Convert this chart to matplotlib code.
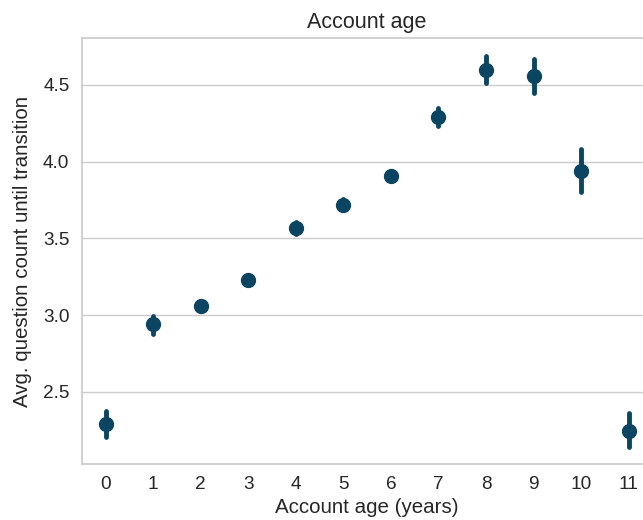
import matplotlib
matplotlib.use("Agg")
import matplotlib.pyplot as plt
import numpy as np

# Account age (years) vs avg. question count until transition
ages = ["0", "1", "2", "3", "4", "5", "6", "7", "8", "9", "10", "11"]
means = [2.29, 2.94, 3.06, 3.23, 3.565, 3.72, 3.91, 4.29, 4.60, 4.56, 3.94, 2.245]
ci_low = [2.21, 2.88, 3.025, 3.20, 3.53, 3.69, 3.88, 4.235, 4.51, 4.45, 3.80, 2.14]
ci_high = [2.375, 2.995, 3.09, 3.26, 3.605, 3.76, 3.94, 4.35, 4.69, 4.67, 4.085, 2.36]

color = "#0b4561"

plt.rcParams["font.family"] = ["Liberation Sans", "DejaVu Sans"]

fig = plt.figure(figsize=(6.43, 5.2), dpi=100)
ax = fig.add_axes([0.1275, 0.1077, 0.887, 0.8193])

x = np.arange(len(ages))
means = np.array(means)
yerr = np.vstack([means - np.array(ci_low), np.array(ci_high) - means])
_, _, bars = ax.errorbar(x, means, yerr=yerr, fmt="o", color=color, ms=10,
                         elinewidth=3.5, capsize=0, zorder=3)
for b in bars:
    b.set_capstyle("round")

ax.set_xlim(-0.5, len(ages) - 0.5)
ax.set_ylim(2.031, 4.806)
ax.set_xticks(x)
ax.set_xticklabels(ages)
ax.set_yticks([2.5, 3.0, 3.5, 4.0, 4.5])

ax.grid(axis="y", color="#cccccc", linewidth=1)
ax.set_axisbelow(True)
for s in ax.spines.values():
    s.set_color("#cccccc")
    s.set_linewidth(1.25)
ax.tick_params(length=0, labelsize=13.7, colors="#262626", pad=9)

ax.set_title("Account age", fontsize=15.5, color="#262626", pad=7)
ax.set_xlabel("Account age (years)", fontsize=14.8, color="#262626", labelpad=3)
ax.set_ylabel("Avg. question count until transition", fontsize=14.8,
              color="#262626", labelpad=8)

fig.savefig("out.png", dpi=100)
